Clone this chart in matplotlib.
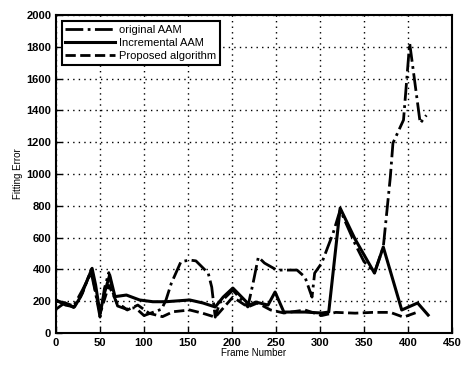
import matplotlib
matplotlib.use("Agg")
import matplotlib.pyplot as plt

# Original AAM (dash-dot)
orig_x = [0, 10, 20, 30, 40, 45, 50, 55, 60, 65, 70, 80, 90, 100, 110, 120, 125, 131, 142, 152, 159,
          173, 177, 181, 186, 201, 218, 224, 230, 237, 251, 274, 283, 291, 294, 302, 315, 323,
          340, 350, 362, 372, 380, 383, 395, 402, 414, 421]
orig_y = [150, 190, 170, 270, 380, 250, 100, 280, 380, 250, 170, 150, 160, 110, 130, 150, 208, 312, 449, 459, 454,
          377, 289, 100, 189, 270, 164, 314, 478, 440, 396, 396, 352, 226, 377, 440, 629, 774,
          560, 450, 380, 540, 980, 1195, 1340, 1824, 1320, 1370]

# Incremental AAM (solid)
inc_x = [0, 11, 21, 28, 34, 41, 45, 50, 55, 61, 67, 80, 95, 110, 125, 152, 167, 181, 190, 201,
         220, 227, 241, 249, 259, 283, 302, 310, 323, 340, 362, 372, 393, 411, 423]
inc_y = [208, 176, 165, 229, 312, 407, 302, 124, 250, 365, 229, 239, 208, 197, 197, 208, 189, 164, 226, 283,
         176, 195, 176, 258, 132, 132, 126, 132, 786, 590, 377, 541, 145, 189, 113]

# Proposed algorithm (dashed)
prop_x = [0, 10, 20, 30, 40, 50, 60, 70, 76, 81, 93, 106, 121, 133, 152, 167, 181, 201, 218, 229,
          244, 259, 283, 302, 318, 340, 360, 380, 395, 410]
prop_y = [200, 190, 160, 250, 400, 120, 300, 180, 166, 145, 176, 124, 103, 134, 145, 124, 100, 226, 164, 189,
          145, 126, 145, 110, 130, 125, 130, 130, 100, 130]

labels = ["original AAM", "Incremental AAM", "Proposed algorithm"]
xticks = list(range(0, 451, 50))
yticks = list(range(0, 2001, 200))

plt.rcParams['font.family'] = ['Liberation Sans', 'DejaVu Sans']

fig = plt.figure(figsize=(4.63, 3.68), dpi=100)
ax = fig.add_axes([0.121, 0.095, 0.855, 0.864])

ax.plot(orig_x, orig_y, color='black', linestyle='-.', linewidth=2.0, label=labels[0])
ax.plot(inc_x, inc_y, color='black', linestyle='-', linewidth=2.2, label=labels[1])
ax.plot(prop_x, prop_y, color='black', linestyle='--', linewidth=2.0, label=labels[2])

ax.set_xlim(0, 450)
ax.set_ylim(0, 2000)
ax.set_xticks(xticks)
ax.set_yticks(yticks)
ax.tick_params(direction='in', labelsize=8, length=4, width=1)
for lbl in ax.get_xticklabels() + ax.get_yticklabels():
    lbl.set_fontweight('bold')
ax.grid(True, linestyle=(0, (1, 3)), color='black', linewidth=1.0)
for s in ax.spines.values():
    s.set_linewidth(1.5)

ax.set_xlabel("Frame Number", fontsize=7, labelpad=0)
ax.set_ylabel("Fitting Error", fontsize=7, labelpad=2)

leg = ax.legend(loc='upper left', fontsize=8, handlelength=4.5, frameon=True, fancybox=False,
                edgecolor='black', framealpha=1, borderaxespad=0.5, labelspacing=0.3,
                handletextpad=0.3, borderpad=0.35)
leg.get_frame().set_linewidth(1.5)

fig.savefig("out.png", dpi=100)
